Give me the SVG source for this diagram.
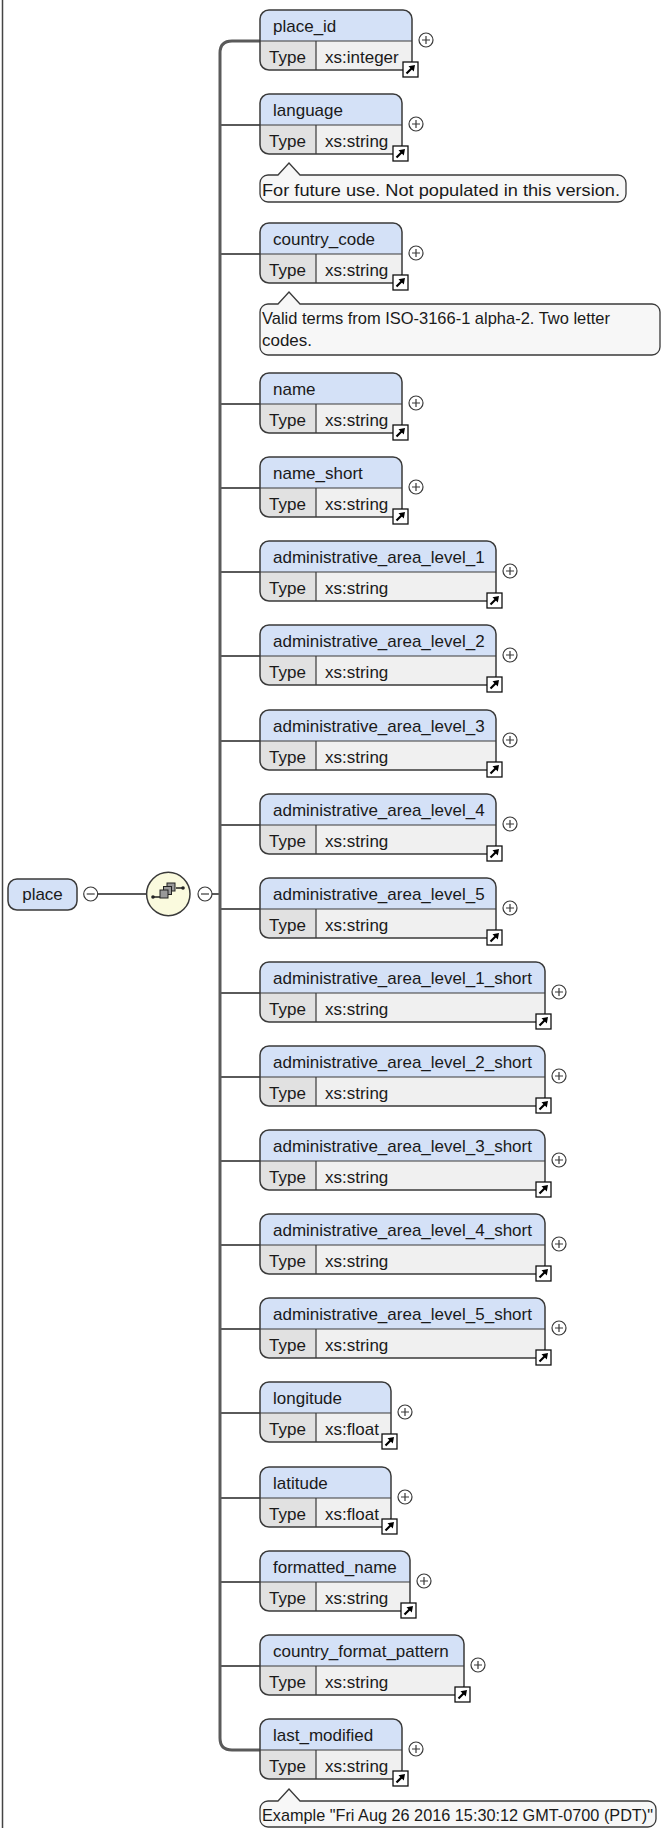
<svg xmlns="http://www.w3.org/2000/svg" width="661" height="1828" viewBox="0 0 661 1828">
<style>
.t{font-family:"Liberation Sans",Arial,sans-serif;font-size:17px;fill:#1a1a1a}
.hd{fill:#d4e1f7}
.bd{fill:#f0f0f0}
.tc{fill:#e1e1e1}
.ol{fill:none;stroke:#3a3a3a;stroke-width:1.5}
.ln{fill:none;stroke:#3a3a3a;stroke-width:1.2}
.cn{fill:none;stroke:#5a5a5a;stroke-width:2.2}
.bus{fill:none;stroke:#5a5a5a;stroke-width:3}
.ann{fill:#f7f7f7;stroke:#3a3a3a;stroke-width:1.3}
.pm{fill:#fff;stroke:#3a3a3a;stroke-width:1.2}
.lk{fill:#fff;stroke:#111;stroke-width:1.3}
</style>
<defs>
<g id="plus"><circle class="pm" cx="0" cy="0" r="7"/><path class="ln" d="M-4 0H4M0 -4V4"/></g>
<g id="minus"><circle class="pm" cx="0" cy="0" r="7"/><path class="ln" d="M-4 0H4"/></g>
<g id="link"><rect class="lk" x="0" y="0" width="15" height="15"/><path d="M3.5 11.5L9 6" stroke="#000" stroke-width="2.2"/><path d="M12 3L5.5 4.2L10.8 9.5Z" fill="#000"/></g>
</defs>
<line x1="2.5" y1="0" x2="2.5" y2="1828" stroke="#444" stroke-width="1.5"/>
<g id="connectors">
<path class="bus" d="M260 41H232Q220 41 220 53V1738Q220 1750 232 1750H260"/>
<path class="cn" d="M220 125H260M220 254H260M220 404H260M220 488H260M220 572H260M220 656H260M220 741H260M220 825H260M220 909H260M220 993H260M220 1077H260M220 1161H260M220 1245H260M220 1329H260M220 1413H260M220 1498H260M220 1582H260M220 1666H260"/>
<path class="cn" d="M98 894H146.6M212 894H220"/>
</g>
<g id="place">
<rect x="8" y="879" width="69" height="31" rx="9" class="hd"/>
<rect x="8" y="879" width="69" height="31" rx="9" class="ol"/>
<text class="t" x="42.5" y="900" text-anchor="middle">place</text>
<use href="#minus" x="90.7" y="894"/>
</g>
<g id="sequence">
<circle cx="168.3" cy="894" r="21.7" fill="#fafade" stroke="#3a3a3a" stroke-width="1.5"/>
<path d="M153 897H160M176 888H183" stroke="#222" stroke-width="1.3"/>
<circle cx="153" cy="897" r="1.8" fill="#222"/>
<circle cx="183" cy="888" r="1.8" fill="#222"/>
<rect x="167" y="883" width="8" height="8" fill="#999" stroke="#222" stroke-width="1"/>
<rect x="163.5" y="886.5" width="8" height="8" fill="#999" stroke="#222" stroke-width="1"/>
<rect x="160" y="890" width="8" height="8" fill="#999" stroke="#222" stroke-width="1"/>
<use href="#minus" x="205" y="894"/>
</g>
<g id="n_place_id"><rect class="bd" x="260" y="10" width="152" height="60" rx="9"/><path class="hd" d="M260 41V19A9 9 0 0 1 269 10H403A9 9 0 0 1 412 19V41Z"/><path class="tc" d="M260 41H316V70H269A9 9 0 0 1 260 61Z"/><path class="ln" d="M260 41H412M316 41V70"/><rect class="ol" x="260" y="10" width="152" height="60" rx="9"/><text class="t" x="273" y="31.5">place_id</text><text class="t" x="269" y="63">Type</text><text class="t" x="325" y="63">xs:integer</text><use href="#plus" x="426" y="40"/><use href="#link" x="403" y="62"/></g>
<g id="n_language"><rect class="bd" x="260" y="94" width="142" height="60" rx="9"/><path class="hd" d="M260 125V103A9 9 0 0 1 269 94H393A9 9 0 0 1 402 103V125Z"/><path class="tc" d="M260 125H316V154H269A9 9 0 0 1 260 145Z"/><path class="ln" d="M260 125H402M316 125V154"/><rect class="ol" x="260" y="94" width="142" height="60" rx="9"/><text class="t" x="273" y="115.5">language</text><text class="t" x="269" y="147">Type</text><text class="t" x="325" y="147">xs:string</text><use href="#plus" x="416" y="124"/><use href="#link" x="393" y="146"/></g>
<g id="a_language"><path class="ann" d="M268 175H278L289 163L300 175H618A8 8 0 0 1 626 183V194A8 8 0 0 1 618 202H268A8 8 0 0 1 260 194V183A8 8 0 0 1 268 175Z"/><text class="t" x="262" y="195.5" textLength="358" lengthAdjust="spacingAndGlyphs">For future use. Not populated in this version.</text></g>
<g id="n_country_code"><rect class="bd" x="260" y="223" width="142" height="60" rx="9"/><path class="hd" d="M260 254V232A9 9 0 0 1 269 223H393A9 9 0 0 1 402 232V254Z"/><path class="tc" d="M260 254H316V283H269A9 9 0 0 1 260 274Z"/><path class="ln" d="M260 254H402M316 254V283"/><rect class="ol" x="260" y="223" width="142" height="60" rx="9"/><text class="t" x="273" y="244.5">country_code</text><text class="t" x="269" y="276">Type</text><text class="t" x="325" y="276">xs:string</text><use href="#plus" x="416" y="253"/><use href="#link" x="393" y="275"/></g>
<g id="a_country_code"><path class="ann" d="M268 304H278L289 292L300 304H652A8 8 0 0 1 660 312V347A8 8 0 0 1 652 355H268A8 8 0 0 1 260 347V312A8 8 0 0 1 268 304Z"/><text class="t" x="262" y="324" textLength="348" lengthAdjust="spacingAndGlyphs">Valid terms from ISO-3166-1 alpha-2. Two letter</text><text class="t" x="262" y="346" textLength="50" lengthAdjust="spacingAndGlyphs">codes.</text></g>
<g id="n_name"><rect class="bd" x="260" y="373" width="142" height="60" rx="9"/><path class="hd" d="M260 404V382A9 9 0 0 1 269 373H393A9 9 0 0 1 402 382V404Z"/><path class="tc" d="M260 404H316V433H269A9 9 0 0 1 260 424Z"/><path class="ln" d="M260 404H402M316 404V433"/><rect class="ol" x="260" y="373" width="142" height="60" rx="9"/><text class="t" x="273" y="394.5">name</text><text class="t" x="269" y="426">Type</text><text class="t" x="325" y="426">xs:string</text><use href="#plus" x="416" y="403"/><use href="#link" x="393" y="425"/></g>
<g id="n_name_short"><rect class="bd" x="260" y="457" width="142" height="60" rx="9"/><path class="hd" d="M260 488V466A9 9 0 0 1 269 457H393A9 9 0 0 1 402 466V488Z"/><path class="tc" d="M260 488H316V517H269A9 9 0 0 1 260 508Z"/><path class="ln" d="M260 488H402M316 488V517"/><rect class="ol" x="260" y="457" width="142" height="60" rx="9"/><text class="t" x="273" y="478.5">name_short</text><text class="t" x="269" y="510">Type</text><text class="t" x="325" y="510">xs:string</text><use href="#plus" x="416" y="487"/><use href="#link" x="393" y="509"/></g>
<g id="n_aal1"><rect class="bd" x="260" y="541" width="236" height="60" rx="9"/><path class="hd" d="M260 572V550A9 9 0 0 1 269 541H487A9 9 0 0 1 496 550V572Z"/><path class="tc" d="M260 572H316V601H269A9 9 0 0 1 260 592Z"/><path class="ln" d="M260 572H496M316 572V601"/><rect class="ol" x="260" y="541" width="236" height="60" rx="9"/><text class="t" x="273" y="562.5">administrative_area_level_1</text><text class="t" x="269" y="594">Type</text><text class="t" x="325" y="594">xs:string</text><use href="#plus" x="510" y="571"/><use href="#link" x="487" y="593"/></g>
<g id="n_aal2"><rect class="bd" x="260" y="625" width="236" height="60" rx="9"/><path class="hd" d="M260 656V634A9 9 0 0 1 269 625H487A9 9 0 0 1 496 634V656Z"/><path class="tc" d="M260 656H316V685H269A9 9 0 0 1 260 676Z"/><path class="ln" d="M260 656H496M316 656V685"/><rect class="ol" x="260" y="625" width="236" height="60" rx="9"/><text class="t" x="273" y="646.5">administrative_area_level_2</text><text class="t" x="269" y="678">Type</text><text class="t" x="325" y="678">xs:string</text><use href="#plus" x="510" y="655"/><use href="#link" x="487" y="677"/></g>
<g id="n_aal3"><rect class="bd" x="260" y="710" width="236" height="60" rx="9"/><path class="hd" d="M260 741V719A9 9 0 0 1 269 710H487A9 9 0 0 1 496 719V741Z"/><path class="tc" d="M260 741H316V770H269A9 9 0 0 1 260 761Z"/><path class="ln" d="M260 741H496M316 741V770"/><rect class="ol" x="260" y="710" width="236" height="60" rx="9"/><text class="t" x="273" y="731.5">administrative_area_level_3</text><text class="t" x="269" y="763">Type</text><text class="t" x="325" y="763">xs:string</text><use href="#plus" x="510" y="740"/><use href="#link" x="487" y="762"/></g>
<g id="n_aal4"><rect class="bd" x="260" y="794" width="236" height="60" rx="9"/><path class="hd" d="M260 825V803A9 9 0 0 1 269 794H487A9 9 0 0 1 496 803V825Z"/><path class="tc" d="M260 825H316V854H269A9 9 0 0 1 260 845Z"/><path class="ln" d="M260 825H496M316 825V854"/><rect class="ol" x="260" y="794" width="236" height="60" rx="9"/><text class="t" x="273" y="815.5">administrative_area_level_4</text><text class="t" x="269" y="847">Type</text><text class="t" x="325" y="847">xs:string</text><use href="#plus" x="510" y="824"/><use href="#link" x="487" y="846"/></g>
<g id="n_aal5"><rect class="bd" x="260" y="878" width="236" height="60" rx="9"/><path class="hd" d="M260 909V887A9 9 0 0 1 269 878H487A9 9 0 0 1 496 887V909Z"/><path class="tc" d="M260 909H316V938H269A9 9 0 0 1 260 929Z"/><path class="ln" d="M260 909H496M316 909V938"/><rect class="ol" x="260" y="878" width="236" height="60" rx="9"/><text class="t" x="273" y="899.5">administrative_area_level_5</text><text class="t" x="269" y="931">Type</text><text class="t" x="325" y="931">xs:string</text><use href="#plus" x="510" y="908"/><use href="#link" x="487" y="930"/></g>
<g id="n_aal1s"><rect class="bd" x="260" y="962" width="285" height="60" rx="9"/><path class="hd" d="M260 993V971A9 9 0 0 1 269 962H536A9 9 0 0 1 545 971V993Z"/><path class="tc" d="M260 993H316V1022H269A9 9 0 0 1 260 1013Z"/><path class="ln" d="M260 993H545M316 993V1022"/><rect class="ol" x="260" y="962" width="285" height="60" rx="9"/><text class="t" x="273" y="983.5">administrative_area_level_1_short</text><text class="t" x="269" y="1015">Type</text><text class="t" x="325" y="1015">xs:string</text><use href="#plus" x="559" y="992"/><use href="#link" x="536" y="1014"/></g>
<g id="n_aal2s"><rect class="bd" x="260" y="1046" width="285" height="60" rx="9"/><path class="hd" d="M260 1077V1055A9 9 0 0 1 269 1046H536A9 9 0 0 1 545 1055V1077Z"/><path class="tc" d="M260 1077H316V1106H269A9 9 0 0 1 260 1097Z"/><path class="ln" d="M260 1077H545M316 1077V1106"/><rect class="ol" x="260" y="1046" width="285" height="60" rx="9"/><text class="t" x="273" y="1067.5">administrative_area_level_2_short</text><text class="t" x="269" y="1099">Type</text><text class="t" x="325" y="1099">xs:string</text><use href="#plus" x="559" y="1076"/><use href="#link" x="536" y="1098"/></g>
<g id="n_aal3s"><rect class="bd" x="260" y="1130" width="285" height="60" rx="9"/><path class="hd" d="M260 1161V1139A9 9 0 0 1 269 1130H536A9 9 0 0 1 545 1139V1161Z"/><path class="tc" d="M260 1161H316V1190H269A9 9 0 0 1 260 1181Z"/><path class="ln" d="M260 1161H545M316 1161V1190"/><rect class="ol" x="260" y="1130" width="285" height="60" rx="9"/><text class="t" x="273" y="1151.5">administrative_area_level_3_short</text><text class="t" x="269" y="1183">Type</text><text class="t" x="325" y="1183">xs:string</text><use href="#plus" x="559" y="1160"/><use href="#link" x="536" y="1182"/></g>
<g id="n_aal4s"><rect class="bd" x="260" y="1214" width="285" height="60" rx="9"/><path class="hd" d="M260 1245V1223A9 9 0 0 1 269 1214H536A9 9 0 0 1 545 1223V1245Z"/><path class="tc" d="M260 1245H316V1274H269A9 9 0 0 1 260 1265Z"/><path class="ln" d="M260 1245H545M316 1245V1274"/><rect class="ol" x="260" y="1214" width="285" height="60" rx="9"/><text class="t" x="273" y="1235.5">administrative_area_level_4_short</text><text class="t" x="269" y="1267">Type</text><text class="t" x="325" y="1267">xs:string</text><use href="#plus" x="559" y="1244"/><use href="#link" x="536" y="1266"/></g>
<g id="n_aal5s"><rect class="bd" x="260" y="1298" width="285" height="60" rx="9"/><path class="hd" d="M260 1329V1307A9 9 0 0 1 269 1298H536A9 9 0 0 1 545 1307V1329Z"/><path class="tc" d="M260 1329H316V1358H269A9 9 0 0 1 260 1349Z"/><path class="ln" d="M260 1329H545M316 1329V1358"/><rect class="ol" x="260" y="1298" width="285" height="60" rx="9"/><text class="t" x="273" y="1319.5">administrative_area_level_5_short</text><text class="t" x="269" y="1351">Type</text><text class="t" x="325" y="1351">xs:string</text><use href="#plus" x="559" y="1328"/><use href="#link" x="536" y="1350"/></g>
<g id="n_longitude"><rect class="bd" x="260" y="1382" width="131" height="60" rx="9"/><path class="hd" d="M260 1413V1391A9 9 0 0 1 269 1382H382A9 9 0 0 1 391 1391V1413Z"/><path class="tc" d="M260 1413H316V1442H269A9 9 0 0 1 260 1433Z"/><path class="ln" d="M260 1413H391M316 1413V1442"/><rect class="ol" x="260" y="1382" width="131" height="60" rx="9"/><text class="t" x="273" y="1403.5">longitude</text><text class="t" x="269" y="1435">Type</text><text class="t" x="325" y="1435">xs:float</text><use href="#plus" x="405" y="1412"/><use href="#link" x="382" y="1434"/></g>
<g id="n_latitude"><rect class="bd" x="260" y="1467" width="131" height="60" rx="9"/><path class="hd" d="M260 1498V1476A9 9 0 0 1 269 1467H382A9 9 0 0 1 391 1476V1498Z"/><path class="tc" d="M260 1498H316V1527H269A9 9 0 0 1 260 1518Z"/><path class="ln" d="M260 1498H391M316 1498V1527"/><rect class="ol" x="260" y="1467" width="131" height="60" rx="9"/><text class="t" x="273" y="1488.5">latitude</text><text class="t" x="269" y="1520">Type</text><text class="t" x="325" y="1520">xs:float</text><use href="#plus" x="405" y="1497"/><use href="#link" x="382" y="1519"/></g>
<g id="n_formatted_name"><rect class="bd" x="260" y="1551" width="150" height="60" rx="9"/><path class="hd" d="M260 1582V1560A9 9 0 0 1 269 1551H401A9 9 0 0 1 410 1560V1582Z"/><path class="tc" d="M260 1582H316V1611H269A9 9 0 0 1 260 1602Z"/><path class="ln" d="M260 1582H410M316 1582V1611"/><rect class="ol" x="260" y="1551" width="150" height="60" rx="9"/><text class="t" x="273" y="1572.5">formatted_name</text><text class="t" x="269" y="1604">Type</text><text class="t" x="325" y="1604">xs:string</text><use href="#plus" x="424" y="1581"/><use href="#link" x="401" y="1603"/></g>
<g id="n_country_format_pattern"><rect class="bd" x="260" y="1635" width="204" height="60" rx="9"/><path class="hd" d="M260 1666V1644A9 9 0 0 1 269 1635H455A9 9 0 0 1 464 1644V1666Z"/><path class="tc" d="M260 1666H316V1695H269A9 9 0 0 1 260 1686Z"/><path class="ln" d="M260 1666H464M316 1666V1695"/><rect class="ol" x="260" y="1635" width="204" height="60" rx="9"/><text class="t" x="273" y="1656.5">country_format_pattern</text><text class="t" x="269" y="1688">Type</text><text class="t" x="325" y="1688">xs:string</text><use href="#plus" x="478" y="1665"/><use href="#link" x="455" y="1687"/></g>
<g id="n_last_modified"><rect class="bd" x="260" y="1719" width="142" height="60" rx="9"/><path class="hd" d="M260 1750V1728A9 9 0 0 1 269 1719H393A9 9 0 0 1 402 1728V1750Z"/><path class="tc" d="M260 1750H316V1779H269A9 9 0 0 1 260 1770Z"/><path class="ln" d="M260 1750H402M316 1750V1779"/><rect class="ol" x="260" y="1719" width="142" height="60" rx="9"/><text class="t" x="273" y="1740.5">last_modified</text><text class="t" x="269" y="1772">Type</text><text class="t" x="325" y="1772">xs:string</text><use href="#plus" x="416" y="1749"/><use href="#link" x="393" y="1771"/></g>
<g id="a_last_modified"><path class="ann" d="M268 1801H278L289 1789L300 1801H648A8 8 0 0 1 656 1809V1819A8 8 0 0 1 648 1827H268A8 8 0 0 1 260 1819V1809A8 8 0 0 1 268 1801Z"/><text class="t" x="262" y="1821" textLength="391" lengthAdjust="spacingAndGlyphs">Example "Fri Aug 26 2016 15:30:12 GMT-0700 (PDT)"</text></g>
</svg>
